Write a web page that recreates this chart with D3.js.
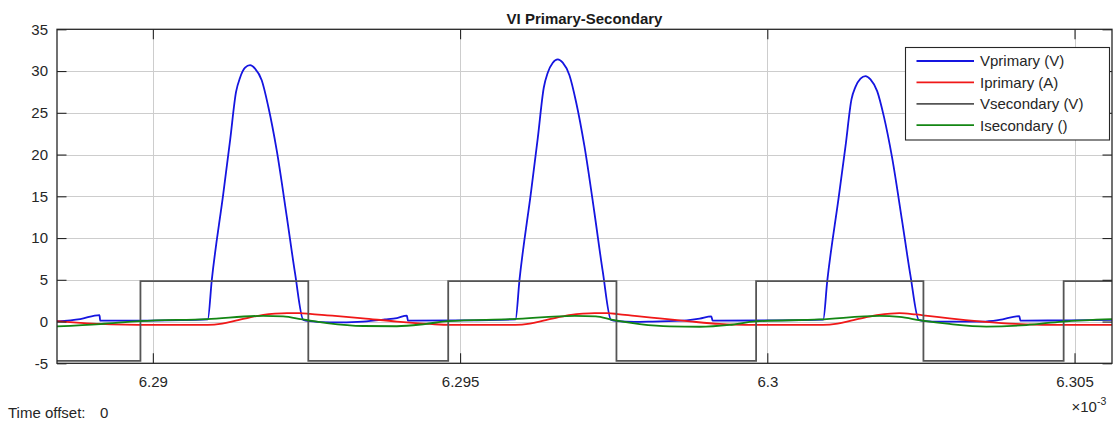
<!DOCTYPE html>
<html><head><meta charset="utf-8">
<script src="https://cdn.jsdelivr.net/npm/d3@7"></script>
<style>
body{margin:0;background:#fff;}
svg{display:block;font-family:"Liberation Sans",Arial,Helvetica,sans-serif;}
</style>
</head><body>
<svg id="c" width="1116" height="421"></svg>
<script>
// ---------------- data (time in units of 1e-3 s) ----------------
const chartTitle = "VI Primary-Secondary";
const xDomain = [6.28844, 6.30561];
const yDomain = [-5, 35];
const xTicks = [6.29, 6.295, 6.3, 6.305];
const xTickLabels = ["6.29", "6.295", "6.3", "6.305"];
const yTicks = [-5, 0, 5, 10, 15, 20, 25, 30, 35];
const yTickLabels = ["-5", "0", "5", "10", "15", "20", "25", "30", "35"];
const seriesNames = ["Vprimary (V)", "Iprimary (A)", "Vsecondary (V)", "Isecondary ()"];
const seriesColors = ["#1515e0", "#f01818", "#555555", "#138613"];

const vPrimary = [
 [6.288439,0.02],[6.288818,0.3],[6.289132,0.78],[6.289143,0.1],[6.289956,0.12],
 [6.290894,0.27],[6.290959,4.97],[6.291148,15.4],[6.291257,21.7],[6.291354,27.5],[6.291419,29.2],[6.291501,30.4],[6.291582,30.7],[6.291663,30.3],[6.291772,28.9],[6.291880,25.7],[6.292016,20.5],[6.292179,12.6],[6.292314,5.8],[6.292449,0.2],
 [6.292558,0.05],[6.292883,-0.1],[6.293420,0.0],[6.293777,0.25],[6.293972,0.42],[6.294135,0.7],[6.294151,0.1],[6.294997,0.13],
 [6.295902,0.25],[6.295967,5.0],[6.296156,15.6],[6.296265,22.0],[6.296362,28.0],[6.296427,29.8],[6.296509,31.0],[6.296590,31.4],[6.296671,31.0],[6.296780,29.5],[6.296888,26.3],[6.297024,21.0],[6.297187,13.0],[6.297322,6.0],[6.297457,0.2],
 [6.297566,0.05],[6.297837,-0.05],[6.298135,0.0],[6.298688,0.15],[6.298899,0.35],[6.299089,0.62],[6.299110,0.1],[6.300005,0.13],
 [6.300910,0.22],[6.300975,4.8],[6.301164,15.0],[6.301273,21.0],[6.301370,26.6],[6.301435,28.1],[6.301517,29.1],[6.301598,29.4],[6.301679,29.0],[6.301788,27.6],[6.301896,24.6],[6.302032,19.6],[6.302195,12.0],[6.302330,5.5],[6.302465,0.2],
 [6.302574,0.05],[6.302688,0.0],[6.303501,0.0],[6.303777,0.2],[6.304102,0.66],[6.304119,0.1],[6.304915,0.15],[6.30561,0.19]
];

const iPrimary = [
 [6.288439,0.05],[6.288818,-0.15],[6.289143,-0.29],[6.289550,-0.38],[6.289956,-0.41],[6.290894,-0.41],
 [6.291127,-0.25],[6.291366,0.15],[6.291582,0.5],[6.291798,0.8],[6.291989,0.95],[6.292184,1.02],[6.292395,1.0],[6.292558,0.92],[6.292834,0.75],[6.293420,0.38],[6.293972,0.0],[6.294509,-0.29],[6.294834,-0.4],[6.295899,-0.41],
 [6.296135,-0.25],[6.296374,0.15],[6.296590,0.5],[6.296806,0.8],[6.296997,0.95],[6.297192,1.02],[6.297403,1.0],[6.297566,0.9],[6.297842,0.68],[6.298249,0.38],[6.298737,0.02],[6.299224,-0.29],[6.299631,-0.4],[6.300907,-0.41],
 [6.301143,-0.25],[6.301382,0.15],[6.301598,0.5],[6.301814,0.8],[6.302005,0.95],[6.302150,1.0],[6.302411,0.85],[6.302574,0.72],[6.302964,0.38],[6.303501,0.0],[6.304049,-0.29],[6.304590,-0.41],[6.30561,-0.41]
];

const vSecondary = [
 [6.28844,-4.7],[6.289798,-4.7],[6.289798,4.85],[6.29253,4.85],[6.29253,-4.7],
 [6.294807,-4.7],[6.294807,4.85],[6.297545,4.85],[6.297545,-4.7],
 [6.299818,-4.7],[6.299818,4.85],[6.302541,4.85],[6.302541,-4.7],
 [6.304823,-4.7],[6.304823,4.85],[6.30561,4.85]
];

const iSecondary = [
 [6.288439,-0.58],[6.289143,-0.3],[6.289793,0.05],[6.290883,0.3],[6.291794,0.68],[6.292119,0.62],[6.292444,0.25],[6.292834,-0.18],[6.293420,-0.53],[6.293972,-0.56],[6.294428,-0.3],[6.294802,0.05],
 [6.295858,0.3],[6.296867,0.68],[6.297208,0.62],[6.297485,0.2],[6.297924,-0.3],[6.298411,-0.58],[6.298899,-0.62],[6.299387,-0.4],[6.299810,0.02],
 [6.300850,0.25],[6.301826,0.68],[6.302151,0.55],[6.302525,0.1],[6.302964,-0.29],[6.303566,-0.6],[6.304216,-0.42],[6.304801,0.0],[6.30561,0.3]
];

// ---------------- layout ----------------
const L = 57, R = 1112, T = 29.3, B = 363.3;
const frameCol = "#262626", gridCol = "#cdcdcd";
const svg = d3.select("#c");
const x = d3.scaleLinear().domain(xDomain).range([L, R]);
const y = d3.scaleLinear().domain(yDomain).range([B, T]);

svg.append("rect").attr("width",1116).attr("height",421).attr("fill","#fff");

// grid
const grid = svg.append("g").attr("stroke", gridCol).attr("stroke-width", 1);
grid.selectAll("line.gy").data(yTicks.filter(v => v > yDomain[0] && v < yDomain[1])).join("line")
  .attr("x1", L).attr("x2", R).attr("y1", d => Math.round(y(d)) + 0.5).attr("y2", d => Math.round(y(d)) + 0.5);
grid.selectAll("line.gx").data(xTicks).join("line")
  .attr("y1", T).attr("y2", B).attr("x1", d => Math.round(x(d)) + 0.5).attr("x2", d => Math.round(x(d)) + 0.5);

// series
svg.append("defs").append("clipPath").attr("id","clip")
  .append("rect").attr("x", L).attr("y", T).attr("width", R - L).attr("height", B - T);
const smooth = d3.line().x(d => x(d[0])).y(d => y(d[1])).curve(d3.curveMonotoneX);
const straight = d3.line().x(d => x(d[0])).y(d => y(d[1]));
const lines = svg.append("g").attr("clip-path","url(#clip)").attr("fill","none")
  .attr("stroke-linejoin","round").attr("stroke-linecap","round");
lines.append("path").attr("d", smooth(vPrimary)).attr("stroke", seriesColors[0]).attr("stroke-width", 1.8);
lines.append("path").attr("d", smooth(iPrimary)).attr("stroke", seriesColors[1]).attr("stroke-width", 1.8);
lines.append("path").attr("d", straight(vSecondary)).attr("stroke", seriesColors[2]).attr("stroke-width", 1.8).attr("stroke-linecap","butt").attr("stroke-linejoin","miter");
lines.append("path").attr("d", smooth(iSecondary)).attr("stroke", seriesColors[3]).attr("stroke-width", 1.8);

// axes
const fontSize = 15;
const axB = svg.append("g").attr("transform", `translate(0,${B})`)
  .call(d3.axisBottom(x).tickValues(xTicks).tickFormat((d,i) => xTickLabels[i]).tickSize(-10).tickPadding(13));
const axL = svg.append("g").attr("transform", `translate(${L},0)`)
  .call(d3.axisLeft(y).tickValues(yTicks).tickFormat((d,i) => yTickLabels[i]).tickSize(-9.5).tickPadding(9));
const axT = svg.append("g").attr("transform", `translate(0,${T})`)
  .call(d3.axisTop(x).tickValues(xTicks).tickFormat("").tickSize(-10));
const axR = svg.append("g").attr("transform", `translate(${R},0)`)
  .call(d3.axisRight(y).tickValues(yTicks).tickFormat("").tickSize(-9.5));
[axB, axL, axT, axR].forEach(a => {
  a.select(".domain").remove();
  a.selectAll(".tick line").attr("stroke", frameCol).attr("stroke-width", 1.1);
  a.selectAll(".tick text").attr("fill", "#262626").attr("font-size", fontSize)
    .attr("font-family", '"Liberation Sans",Arial,sans-serif');
});
svg.append("rect").attr("x", L).attr("y", T).attr("width", R - L).attr("height", B - T)
  .attr("fill","none").attr("stroke", frameCol).attr("stroke-width", 1.3);

// title
svg.append("text").attr("x", (L + R) / 2).attr("y", 23.5).attr("text-anchor","middle")
  .attr("font-size", fontSize).attr("font-weight","bold").attr("fill","#1a1a1a").text(chartTitle);

// exponent
const ex = svg.append("text").attr("x", 1071.5).attr("y", 411.5).attr("font-size", fontSize).attr("fill","#262626");
ex.append("tspan").text("×10");
ex.append("tspan").attr("dy", -7).attr("font-size", 10.5).text("-3");

// time offset
svg.append("text").attr("x", 8).attr("y", 418).attr("font-size", fontSize).attr("fill","#262626").text("Time offset:");
svg.append("text").attr("x", 100).attr("y", 418).attr("font-size", fontSize).attr("fill","#262626").text("0");

// legend
const lg = svg.append("g");
lg.append("rect").attr("x", 905.5).attr("y", 47.5).attr("width", 204).attr("height", 92.5)
  .attr("fill","#fff").attr("stroke", frameCol).attr("stroke-width", 1.1);
seriesNames.forEach((name, i) => {
  const yy = 61 + i * 21.4;
  lg.append("line").attr("x1", 916.5).attr("x2", 974).attr("y1", yy).attr("y2", yy)
    .attr("stroke", seriesColors[i]).attr("stroke-width", 1.8);
  lg.append("text").attr("x", 980).attr("y", yy + 5.3).attr("font-size", fontSize)
    .attr("fill","#262626").text(name);
});
</script>
</body></html>
